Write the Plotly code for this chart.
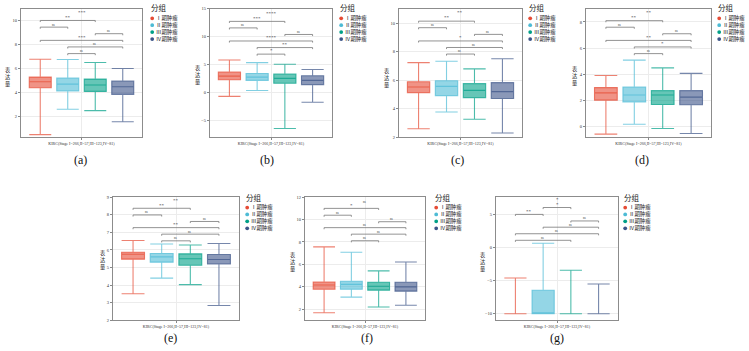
import plotly.graph_objects as go

W, H = 749, 351

# ---------------- data ----------------
groups = ["Ⅰ期肿瘤", "Ⅱ期肿瘤", "Ⅲ期肿瘤", "Ⅳ期肿瘤"]
panel_tags = ["(a)", "(b)", "(c)", "(d)", "(e)", "(f)", "(g)"]
x_label = "KIRC(Stage I=266,II=57,III=123,IV=81)"
y_title = "表达量"
legend_title = "分组"

upper = [
    [6.78, 6.75, 6.50, 6.00],
    [5.82, 5.35, 5.06, 4.12],
    [7.23, 7.32, 6.79, 7.50],
    [3.91, 5.08, 4.49, 4.07],
    [6.54, 6.34, 6.28, 6.37],
    [7.56, 7.09, 5.42, 6.21],
    [-4.60, 0.64, -3.42, -5.50],
]
q3 = [
    [5.28, 5.19, 5.11, 4.94],
    [3.65, 3.41, 3.29, 3.00],
    [5.88, 5.95, 5.75, 5.82],
    [2.98, 3.03, 2.75, 2.75],
    [5.87, 5.80, 5.78, 5.74],
    [4.43, 4.49, 4.40, 4.40],
    [-10.0, -6.44, -10.0, -10.0],
]
median = [
    [4.89, 4.69, 4.61, 4.47],
    [2.94, 2.76, 2.53, 2.18],
    [5.51, 5.56, 5.28, 5.19],
    [2.58, 2.42, 2.42, 2.25],
    [5.76, 5.61, 5.50, 5.46],
    [4.16, 4.22, 4.05, 3.99],
    [-10.0, -10.0, -10.0, -10.0],
]
q1 = [
    [4.39, 4.11, 4.08, 3.83],
    [2.29, 2.18, 1.65, 1.41],
    [5.12, 4.91, 4.77, 4.71],
    [2.02, 1.89, 1.69, 1.67],
    [5.48, 5.31, 5.13, 5.20],
    [3.78, 3.78, 3.70, 3.61],
    [-10.0, -10.0, -10.0, -10.0],
]
lower = [
    [0.45, 2.58, 2.47, 1.53],
    [-0.70, 0.35, -6.47, -1.76],
    [2.58, 3.76, 3.25, 2.28],
    [-0.58, 0.18, -0.15, -0.53],
    [3.51, 4.40, 4.03, 2.85],
    [1.68, 3.08, 2.20, 2.35],
    [-10.0, -10.0, -10.0, -10.0],
]

y_ranges = [[0.25, 11.0], [-8, 15], [2, 11], [-0.8, 9], [2, 9], [1, 12], [-11, 7.6]]
y_ticks = [
    [2, 4, 6, 8, 10],
    [-5, 0, 5, 10, 15],
    [2, 4, 6, 8, 10],
    [0, 2, 4, 6, 8],
    [2, 3, 4, 5, 6, 7, 8, 9],
    [2, 4, 6, 8, 10, 12],
    [-10, -5, 0, 5],
]

pairs_std = [(0, 2), (0, 1), (2, 3), (0, 3), (1, 3), (1, 2)]
pairs_g = [(1, 2), (0, 1), (2, 3), (1, 3), (0, 3), (0, 2)]
bracket_pairs = [pairs_std] * 6 + [pairs_g]
bracket_y = [
    [10.03, 9.47, 8.92, 8.36, 7.81, 7.25],
    [12.76, 11.59, 10.41, 9.24, 8.06, 6.88],
    [10.14, 9.68, 9.21, 8.75, 8.29, 7.83],
    [8.10, 7.60, 7.10, 6.59, 6.09, 5.58],
    [8.37, 7.99, 7.62, 7.27, 6.90, 6.52],
    [11.00, 10.39, 9.81, 9.28, 8.70, 8.11],
    [6.04, 5.00, 4.01, 3.07, 2.08, 1.09],
]
bracket_labels = [
    ["**", "ns", "ns", "***", "ns", "ns"],
    ["***", "ns", "ns", "****", "**", "*"],
    ["**", "ns", "ns", "*", "ns", "ns"],
    ["**", "ns", "ns", "**", "*", "ns"],
    ["**", "ns", "ns", "**", "ns", "ns"],
    ["*", "ns", "ns", "ns", "ns", "ns"],
    ["*", "**", "ns", "ns", "ns", "ns"],
]
overall_label = ["***", "****", "**", "**", "**", "ns", "*"]
overall_y = [10.72, 14.2, 10.72, 8.74, 8.81, 11.53, 7.18]

# ---------------- style / layout ----------------
line_cols = ["rgba(230,75,53,0.7)", "rgba(77,187,213,0.7)",
             "rgba(0,160,135,0.7)", "rgba(60,84,136,0.7)"]
fill_cols = ["rgba(230,75,53,0.6)", "rgba(77,187,213,0.6)",
             "rgba(0,160,135,0.6)", "rgba(60,84,136,0.6)"]
dot_cols = ["#E64B35", "#4DBBD5", "#00A087", "#3C5488"]

# frames in pixels: left, right, top, bottom
frames = [
    (21, 142, 7, 137),
    (210, 332, 7, 137),
    (399, 522, 7, 137),
    (586, 711, 7, 137),
    (113, 239, 198, 323),
    (305, 425, 198, 323),
    (496, 618, 198, 323),
]
legend_pos = [(150, 6), (339, 6), (528, 6), (717, 6),
              (245, 198), (434, 198), (623, 198)]
ytitle_pos = [(8, 76), (198, 74), (387, 77), (575, 75),
              (103, 261), (293, 263), (483, 263)]
caption_pos = [(80, 160), (267, 160), (457, 160), (642, 160),
               (170, 341), (367, 341), (557, 341)]

SERIF = "Liberation Serif, Times New Roman, serif"
CJK = "Noto Sans CJK SC, sans-serif"
LEG_FS = 5.4          # legend item font size
LEG_STEP = 1.3 * LEG_FS  # plotly line spacing


def px(x):
    return x / W


def py(y):
    return 1 - y / H


fig = go.Figure()
annotations = []
shapes = []
layout = dict(
    width=W, height=H, margin=dict(l=0, r=0, t=0, b=0),
    paper_bgcolor="white", plot_bgcolor="white", showlegend=False,
)

for p in range(7):
    n = p + 1
    xa = "x" if n == 1 else f"x{n}"
    ya = "y" if n == 1 else f"y{n}"
    l, r, t, b = frames[p]
    for g in range(4):
        fig.add_trace(go.Box(
            x=[g], q1=[q1[p][g]], median=[median[p][g]], q3=[q3[p][g]],
            lowerfence=[lower[p][g]], upperfence=[upper[p][g]],
            width=0.8, whiskerwidth=1, name=groups[g],
            fillcolor=fill_cols[g], line=dict(color=line_cols[g], width=1.1),
            boxpoints=False, xaxis=xa, yaxis=ya, showlegend=False,
        ))
    # significance brackets
    span = y_ranges[p][1] - y_ranges[p][0]
    dy = span / (b - t) * 1.6
    bx, byy = [], []
    for (i, j), yv, lab in zip(bracket_pairs[p], bracket_y[p], bracket_labels[p]):
        bx += [i, i, j, j, None]
        byy += [yv - dy, yv, yv, yv - dy, None]
        annotations.append(dict(
            x=(i + j) / 2, y=yv, xref=xa, yref=ya, text=lab, showarrow=False,
            yanchor="middle", yshift=3.2 if lab != "ns" else 2.6, borderpad=0,
            font=dict(size=5 if lab != "ns" else 3, color="#333", family=SERIF),
        ))
    fig.add_trace(go.Scatter(
        x=bx, y=byy, mode="lines", line=dict(color="#777", width=0.8),
        xaxis=xa, yaxis=ya, showlegend=False, hoverinfo="skip",
    ))
    annotations.append(dict(
        x=1.5, y=overall_y[p], xref=xa, yref=ya, text=overall_label[p],
        showarrow=False, yanchor="middle", borderpad=0,
        font=dict(size=5 if overall_label[p] != "ns" else 3, color="#333", family=SERIF),
    ))

    axkey = "xaxis" if n == 1 else f"xaxis{n}"
    aykey = "yaxis" if n == 1 else f"yaxis{n}"
    layout[axkey] = dict(
        domain=[px(l), px(r)], anchor=ya, range=[-0.7, 3.7],
        tickmode="array", tickvals=[1.5], ticktext=[x_label],
        tickfont=dict(size=4, family=SERIF, color="#333"),
        ticks="outside", ticklen=2, tickcolor="#888",
        showgrid=True, gridcolor="#ececec", gridwidth=0.6,
        showline=True, linecolor="#8c8c8c", linewidth=1, mirror=True,
        zeroline=False, fixedrange=True,
    )
    layout[aykey] = dict(
        domain=[py(b), py(t)], anchor=xa, range=y_ranges[p],
        tickmode="array", tickvals=y_ticks[p],
        tickfont=dict(size=4.5, family=SERIF, color="#333"),
        ticks="outside", ticklen=2, tickcolor="#888",
        showgrid=True, gridcolor="#ececec", gridwidth=0.6,
        showline=True, linecolor="#8c8c8c", linewidth=1, mirror=True,
        zeroline=False, fixedrange=True,
    )

    # y title: characters stacked vertically
    tx, ty = ytitle_pos[p]
    annotations.append(dict(
        x=px(tx), y=py(ty), xref="paper", yref="paper", showarrow=False,
        text="<br>".join(list(y_title)), xanchor="center", yanchor="middle",
        align="center", borderpad=0,
        font=dict(size=5.2, family=CJK, color="#222"),
    ))
    # caption
    cx, cy = caption_pos[p]
    annotations.append(dict(
        x=px(cx), y=py(cy), xref="paper", yref="paper", showarrow=False,
        text=panel_tags[p], xanchor="center", yanchor="middle", borderpad=0,
        font=dict(size=12, family=SERIF, color="#111"),
    ))
    # legend (title + one multi-line block of items + coloured dots)
    lx, ly = legend_pos[p]
    annotations.append(dict(
        x=px(lx), y=py(ly), xref="paper", yref="paper", showarrow=False,
        text=legend_title, xanchor="left", yanchor="middle", borderpad=0,
        font=dict(size=7.5, family=CJK, color="#222"),
    ))
    first = ly + 10.5
    annotations.append(dict(
        x=px(lx + 5), y=py(first + 1.5 * LEG_STEP), xref="paper", yref="paper",
        showarrow=False, text="<br>".join(groups), xanchor="left",
        yanchor="middle", align="left", borderpad=0,
        font=dict(size=LEG_FS, family=CJK, color="#222"),
    ))
    for g in range(4):
        iy = first + g * LEG_STEP
        shapes.append(dict(
            type="circle", xref="paper", yref="paper",
            x0=px(lx + 0.3), x1=px(lx + 4.1), y0=py(iy + 1.9), y1=py(iy - 1.9),
            fillcolor=dot_cols[g], line=dict(width=0),
        ))

layout["annotations"] = annotations
layout["shapes"] = shapes
fig.update_layout(**layout)
fig.write_html(
    "out.html",
    config={"displayModeBar": False},
    post_script="document.body.style.margin='0px';document.body.style.padding='0px';",
)
